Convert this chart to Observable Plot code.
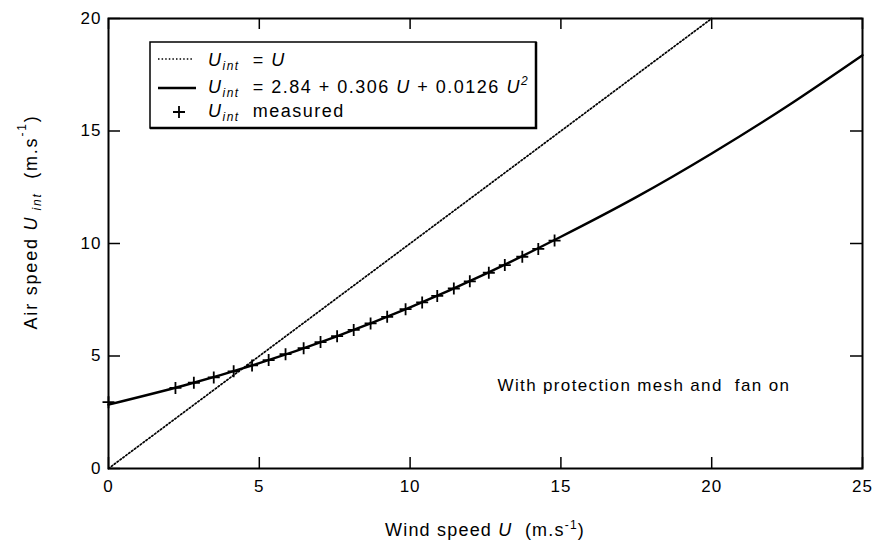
<!DOCTYPE html>
<html><head><meta charset="utf-8">
<script src="https://cdn.jsdelivr.net/npm/d3@7"></script>
<script src="https://cdn.jsdelivr.net/npm/@observablehq/plot@0.6"></script>
<style>
body{margin:0;background:#fff}
svg{font-family:"Liberation Sans",Arial,Helvetica,sans-serif}
</style>
</head><body><div id="chart"></div>
<script>
// ---- data ----
const windTicks = [0, 5, 10, 15, 20, 25];
const airTicks = [0, 5, 10, 15, 20];
const measuredU = [0, 2.22, 2.83, 3.49, 4.15, 4.76, 5.31, 5.87, 6.47, 7.03, 7.58, 8.13, 8.69, 9.24, 9.85, 10.40, 10.90, 11.45, 11.98, 12.61, 13.14, 13.72, 14.25, 14.79];
const measuredUint = [2.95, 3.58, 3.81, 4.05, 4.32, 4.58, 4.82, 5.08, 5.35, 5.62, 5.88, 6.16, 6.45, 6.74, 7.08, 7.38, 7.67, 8.00, 8.32, 8.70, 9.04, 9.41, 9.76, 10.13];
const fitU = [0, 2.5, 5, 7.5, 10, 12.5, 15, 17.5, 20, 22.5, 25];
const fitUint = [2.84, 3.69, 4.68, 5.84, 7.16, 8.65, 10.30, 12.06, 14.00, 16.10, 18.37];
const identityU = [0, 20];
const identityUint = [0, 20];
const annotation = ["With protection mesh and  fan on"];
const annotationU = [12.9];
const annotationUint = [3.7];

const measured = measuredU.map((u, i) => ({u, v: measuredUint[i]}));
const fit = fitU.map((u, i) => ({u, v: fitUint[i]}));
const identity = identityU.map((u, i) => ({u, v: identityUint[i]}));
const notes = annotation.map((t, i) => ({t, u: annotationU[i], v: annotationUint[i]}));

const plusSymbol = {
  draw(ctx, size) {
    const r = Math.sqrt(size / Math.PI);
    ctx.moveTo(-r, 0); ctx.lineTo(r, 0);
    ctx.moveTo(0, -r); ctx.lineTo(0, r);
  }
};

const FONT = '"Liberation Sans",Arial,Helvetica,sans-serif';

const plot = Plot.plot({
  width: 875, height: 548,
  marginLeft: 108, marginRight: 13, marginTop: 18, marginBottom: 80,
  style: {fontFamily: FONT, fontSize: "17px", color: "black", background: "white", overflow: "visible"},
  x: {domain: [0, 25]},
  y: {domain: [0, 20]},
  marks: [
    Plot.line(identity, {x: "u", y: "v", stroke: "black", strokeWidth: 1.7, strokeDasharray: "1.5,2.1"}),
    Plot.line(fit, {x: "u", y: "v", stroke: "black", strokeWidth: 2.4, curve: "natural"}),
    Plot.dot(measured, {x: "u", y: "v", symbol: plusSymbol, r: 6, stroke: "black", strokeWidth: 1.8}),
    Plot.frame({stroke: "black", strokeWidth: 2}),
    Plot.ruleX(windTicks, {x: d => d, insetTop: 439, stroke: "black", strokeWidth: 1.5}),
    Plot.ruleX(windTicks, {x: d => d, insetBottom: 439, stroke: "black", strokeWidth: 1.5}),
    Plot.ruleY(airTicks, {y: d => d, insetRight: 742, stroke: "black", strokeWidth: 1.5}),
    Plot.ruleY(airTicks, {y: d => d, insetLeft: 742, stroke: "black", strokeWidth: 1.5}),
    Plot.axisX({ticks: windTicks, tickSize: 0, tickPadding: 11, label: null, fontSize: 17}),
    Plot.axisY({ticks: airTicks, tickSize: 0, tickPadding: 7, label: null, fontSize: 17}),
    Plot.text(notes, {x: "u", y: "v", text: "t", textAnchor: "start", fontSize: 17})
  ]
});

document.getElementById("chart").appendChild(plot);
const svg = d3.select(plot);
svg.selectAll("text").style("white-space", "pre").style("letter-spacing", "1px");
svg.selectAll("g[aria-label='text'] text").style("letter-spacing", "1.35px");

function rich(sel, parts) {
  let cur = 0;
  for (const p of parts) {
    const t = sel.append("tspan").text(p.t);
    const target = p.sub ? p.sub : p.sup ? -p.sup : 0;
    if (target !== cur) { t.attr("dy", target - cur); cur = target; }
    if (p.i) t.attr("font-style", "italic");
    if (p.size) t.attr("font-size", p.size);
  }
}

const g = svg.append("g").attr("font-family", FONT).attr("fill", "black").attr("text-anchor", "start");

// x axis label
rich(g.append("text").attr("x", 485).attr("y", 536).attr("text-anchor", "middle").attr("font-size", 18).style("letter-spacing", "1.2px"),
  [{t: "Wind speed "}, {t: "U", i: true}, {t: "  (m.s"}, {t: "-1", sup: 7, size: 12}, {t: ")"}]);

// y axis label
rich(g.append("text").attr("transform", "translate(37,222) rotate(-90)").attr("text-anchor", "middle").attr("font-size", 18).style("letter-spacing", "1.8px"),
  [{t: "Air speed "}, {t: "U", i: true}, {t: " int", i: true, sub: 4, size: 12}, {t: "  (m.s"}, {t: "-1", sup: 11, size: 12}, {t: ")"}]);

// legend
const lg = g.append("g");
lg.append("rect").attr("x", 150).attr("y", 42).attr("width", 386).attr("height", 86)
  .attr("fill", "white").attr("stroke", "black").attr("stroke-width", 1.5);
lg.append("path").attr("d", "M536,42V128H150").attr("fill", "none").attr("stroke", "black").attr("stroke-width", 2.5);
lg.append("line").attr("x1", 158).attr("x2", 194).attr("y1", 59).attr("y2", 59)
  .attr("stroke", "black").attr("stroke-width", 1.7).attr("stroke-dasharray", "1.5,2.1");
lg.append("line").attr("x1", 158).attr("x2", 196).attr("y1", 88).attr("y2", 88)
  .attr("stroke", "black").attr("stroke-width", 2.4);
lg.append("path").attr("d", "M173,112h12M179,106v12").attr("stroke", "black").attr("stroke-width", 1.8);

const legendText = (y) => lg.append("text").attr("x", 208).attr("y", y).attr("font-size", 18)
  .attr("text-anchor", "start").style("letter-spacing", "1.5px").style("white-space", "pre");
rich(legendText(66), [{t: "U", i: true}, {t: "int", i: true, sub: 4, size: 12}, {t: "  = "}, {t: "U", i: true}]);
rich(legendText(93), [{t: "U", i: true}, {t: "int", i: true, sub: 4, size: 12}, {t: "  = 2.84 + 0.306 "}, {t: "U", i: true}, {t: " + 0.0126 "}, {t: "U", i: true}, {t: "2", i: true, sup: 8, size: 12}]);
rich(legendText(117), [{t: "U", i: true}, {t: "int", i: true, sub: 4, size: 12}, {t: "  measured"}]);
g.selectAll("text").style("white-space", "pre");
</script>
</body></html>
